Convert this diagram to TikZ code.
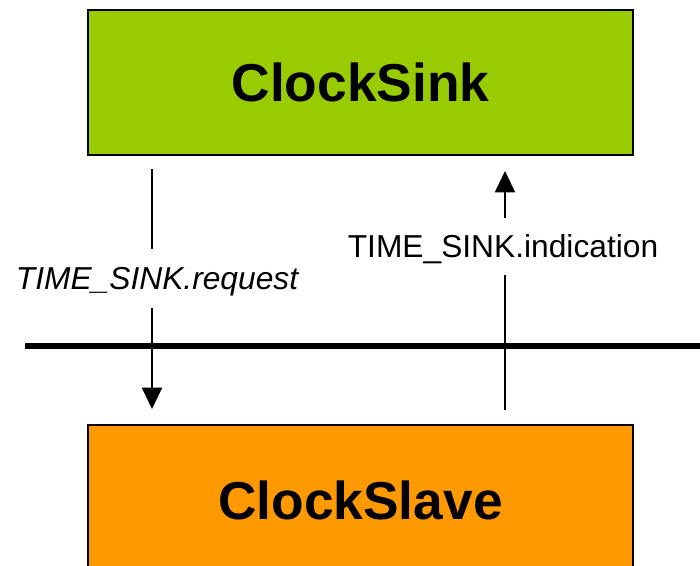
\documentclass[tikz,border=0pt]{standalone}
\usepackage{fontspec}
\setmainfont{Liberation Sans}
\usetikzlibrary{arrows.meta}
\definecolor{sinkgreen}{HTML}{99CC00}
\definecolor{slaveorange}{HTML}{FF9900}
\tikzset{
  blockbox/.style={draw=black, line width=2.2pt, minimum width=408.75pt, inner sep=0pt,
    font=\fontsize{40}{48}\selectfont\bfseries},
  primlbl/.style={inner sep=0pt, text depth=0pt, font=\fontsize{23.8}{28}\selectfont},
  prim/.style={line width=1.5pt},
  primarrow/.style={prim, -{Triangle[width=15pt,length=16pt]}},
  boundary/.style={line width=4.5pt}
}
\begin{document}
\begin{tikzpicture}[x=0.75pt,y=-0.75pt]
\useasboundingbox (0,0) rectangle (700,566);
\node[blockbox, fill=sinkgreen, minimum height=108.75pt] (sink) at (360.5,82.5) {ClockSink};
\node[blockbox, fill=slaveorange, minimum height=112.5pt] (slave) at (360.5,500) {ClockSlave};
\coordinate (bl) at (25,346);
\coordinate (br) at (705,346);
\draw[boundary] (bl) -- (br);
% request
\coordinate (r1) at (152,169);
\coordinate (r2) at (152,409);
\node[primlbl, minimum height=44.25pt, font=\fontsize{23.8}{28}\selectfont\itshape] (req) at (157,278.5) {TIME\_SINK.request};
\draw[prim] (r1) -- (r1 |- req.north);
\draw[primarrow] (r2 |- req.south) -- (r2);
% indication
\coordinate (i1) at (505,410);
\coordinate (i2) at (505,171);
\node[primlbl, minimum height=42.75pt] (ind) at (503,246.5) {TIME\_SINK.indication};
\draw[prim] (i1) -- (i1 |- ind.south);
\draw[primarrow] (i2 |- ind.north) -- (i2);
\end{tikzpicture}
\end{document}
